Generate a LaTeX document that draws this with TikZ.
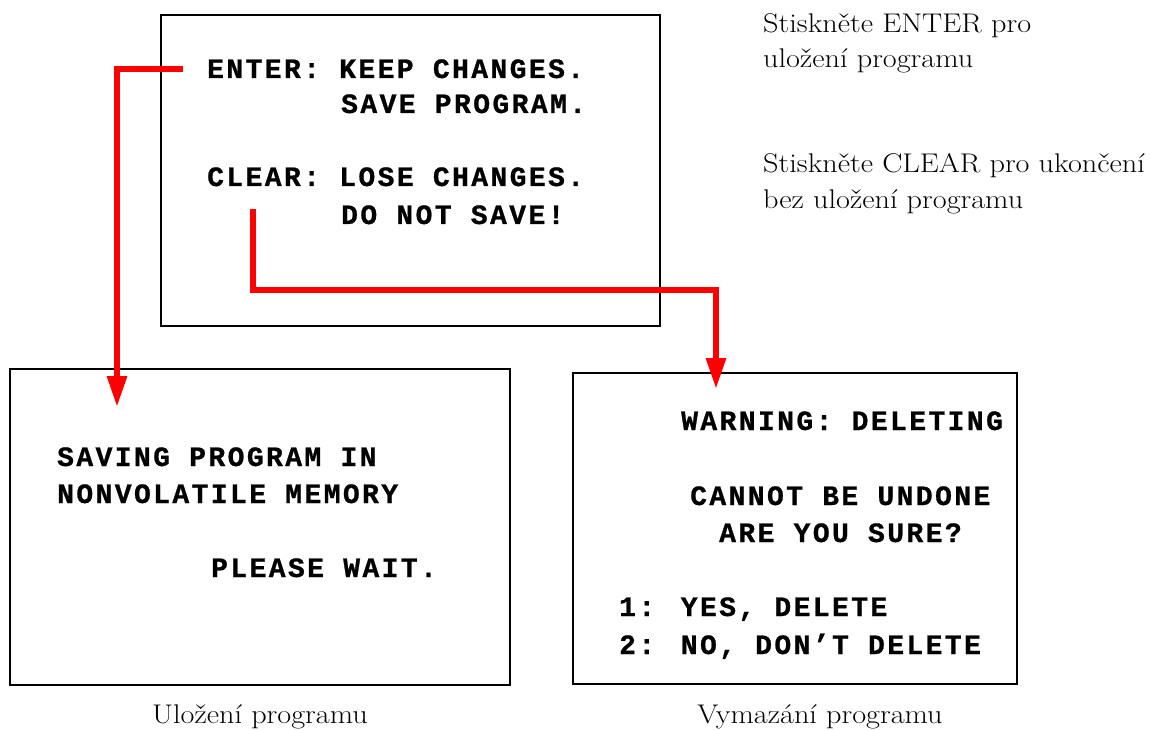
\documentclass[tikz,border=0pt]{standalone}
\usepackage{fontspec}
\usepackage{graphicx}
\newfontfamily\scr{Liberation Mono}[BoldFont={Liberation Mono Bold},BoldFeatures={FakeBold=0.8},LetterSpace=8.6]
\usetikzlibrary{arrows.meta}
\newcommand{\wide}[1]{\scalebox{1.12}[1]{#1}}
\tikzset{
  screen/.style={draw=black, line width=2pt},
  lcd/.style={inner sep=0pt, anchor=base west, font=\scr\bfseries\fontsize{28}{32}\selectfont},
  note/.style={inner sep=0pt, anchor=base west, font=\fontsize{27}{35}\selectfont},
  caption/.style={inner sep=0pt, anchor=base, font=\fontsize{27}{35}\selectfont},
  flow/.style={draw=red, line width=6pt, -{Triangle[length=31pt,width=19pt]}}
}
\begin{document}
\begin{tikzpicture}[x=1pt,y=-1pt]
\useasboundingbox (0,0) rectangle (1151,730);
% screens
\draw[screen] (161,15) rectangle (660,326);
\draw[screen] (10,369) rectangle (510,685);
\draw[screen] (573,373) rectangle (1017,684);
% top screen text
\node[lcd] (t1) at (207,78) {ENTER: KEEP CHANGES.};
\node[lcd] (t2) at (341,113) {SAVE PROGRAM.};
\node[lcd] (t3) at (207,186) {CLEAR: LOSE CHANGES.};
\node[lcd] (t4) at (341,224) {DO NOT SAVE!};
% left screen text
\node[lcd] (l1) at (57,466) {SAVING PROGRAM IN};
\node[lcd] (l2) at (57,503) {NONVOLATILE MEMORY};
\node[lcd] (l3) at (211,577) {PLEASE WAIT.};
% right screen text
\node[lcd] (r1) at (681,430) {WARNING: DELETING};
\node[lcd] (r2) at (690,505) {CANNOT BE UNDONE};
\node[lcd] (r3) at (719,542) {ARE YOU SURE?};
\node[lcd] (r4) at (619,616) {1: YES, DELETE};
\node[lcd] (r5) at (619,654) {2: NO, DON’T DELETE};
% notes
\node[note] (n1a) at (763,33) {\wide{Stiskněte ENTER pro}};
\node[note] (n1b) at (763,68) {\wide{uložení programu}};
\node[note] (n2a) at (763,173) {\wide{Stiskněte CLEAR pro ukončení}};
\node[note] (n2b) at (763,208) {\wide{bez uložení programu}};
\node[caption] (c1) at (260,723) {\wide{Uložení programu}};
\node[caption] (c2) at (820,723) {\wide{Vymazání programu}};
% connectors
\coordinate (s1) at (183,69);
\coordinate (e1) at (117,407);
\coordinate (s2) at (253,209);
\coordinate (m2) at (253,290);
\coordinate (e2) at (716,389);
\draw[flow] (s1) -| (e1);
\draw[flow] (s2) -- (m2) -| (e2);
\end{tikzpicture}
\end{document}
